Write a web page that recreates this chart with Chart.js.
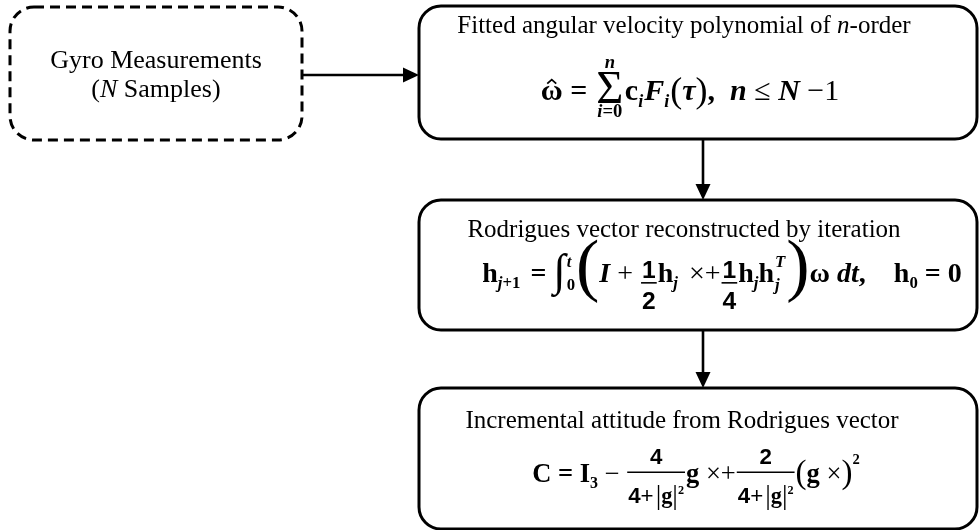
<!DOCTYPE html>
<html><head><meta charset="utf-8">
<script src="https://cdn.jsdelivr.net/npm/chart.js@4/dist/chart.umd.min.js"></script>
<style>html,body{margin:0;padding:0;background:#fff}#wrap{width:979px;height:530px}</style>
</head><body><div id="wrap"><canvas id="c"></canvas></div>
<script>
// ---- content ----
const nodeTitles = [
  ['Gyro Measurements', '(*N* Samples)'],
  ['Fitted angular velocity polynomial of *n*-order'],
  ['Rodrigues vector reconstructed by iteration'],
  ['Incremental attitude from Rodrigues vector']
];
const edges = [[0, 1], [1, 2], [2, 3]];
const edgeDirections = ['right', 'down', 'down'];

// formula token helpers
const T = (s, o) => Object.assign({ s: s }, o || {});
const B = { b: true }, BI = { b: true, i: true };
const SUB = (s, o) => T(s, Object.assign({ sc: 0.6, dy: 0.22, b: true }, o || {}));
const SUP = (s, o) => T(s, Object.assign({ sc: 0.6, dy: -0.42, b: true }, o || {}));
const FRAC = (num, den, o) => Object.assign({ frac: true, num: num, den: den }, o || {});

const formula1 = [
  T('ω', { b: true, hat: true }), T(' = ', B),
  { op: true, s: 'Σ', sc: 1.55, dy: 0.1, up: [T('n', BI)], lo: [T('i', BI), T('=0', B)], upY: 1.08, loY: 0.58 },
  T('c', B), SUB('i', { i: true, gap: 1 }), T('F', BI), SUB('i', { i: true, gap: 1 }),
  T('(', { sc: 1.2, dy: 0.05 }), T('τ', BI), T(')', { sc: 1.2, dy: 0.05 }),
  T(',  ', B), T('n', BI), T(' ≤ '), T('N', BI), T(' −1')
];
const den3 = [T('4', { b: true, sans: true }), T('+', { sans: true, gap: 2 }), T('|', { sc: 1.25, dy: 0.03 }), T('g', B), T('|', { sc: 1.25, dy: 0.03 }), SUP('2', { sc: 0.55 })];
const formula2 = [
  T('h', B), SUB('j', { i: true }), SUB('+1', { gap: 3 }), T(' = ', B),
  T('∫', { sc: 1.6, dy: 0.1 }), { stack: true, up: [T('t', BI)], lo: [T('0', B)] },
  T('(', { sc: 2.5, dy: 0.22 }), T('I', BI), T(' + '),
  FRAC([T('1', { b: true, sans: true })], [T('2', { b: true, sans: true })], { sc: 0.88, bar: 0.03, ng: 0.18, dg: 0.94 }),
  T('h', B), SUB('j', { i: true, gap: 4 }), T(' ×+'),
  FRAC([T('1', { b: true, sans: true })], [T('4', { b: true, sans: true })], { sc: 0.88, bar: 0.03, ng: 0.18, dg: 0.94 }),
  T('h', B), SUB('j', { i: true }), T('h', B), { stack: true, up: [T('T', BI)], lo: [T('j', BI)] },
  T(')', { sc: 2.5, dy: 0.22 }), T('ω', B), T(' d', BI), T('t', BI), T(',    ', B),
  T('h', B), SUB('0'), T(' = 0', B)
];
const formula3 = [
  T('C', B), T(' = ', B), T('I', B), SUB('3'), T(' − '),
  FRAC([T('4', { b: true, sans: true })], den3, { sc: 0.84, bar: -0.37, ng: 0.3, dg: 1.18 }),
  T('g', B), T(' ×+'),
  FRAC([T('2', { b: true, sans: true })], den3, { sc: 0.84, bar: -0.37, ng: 0.3, dg: 1.18 }),
  T('(', { sc: 1.25, dy: 0.04 }), T('g', B), T(' ×'), T(')', { sc: 1.25, dy: 0.04 }), SUP('2', { sc: 0.55, dy: -0.68 })
];
const nodeFormulas = [null, formula1, formula2, formula3];

// ---- layout (chart units) ----
const boxLayout = [
  { x0: 10, y0: 7, x1: 302, y1: 140, r: 24, dash: true },
  { x0: 419, y0: 6, x1: 977, y1: 139, r: 22 },
  { x0: 419, y0: 200, x1: 977, y1: 330, r: 22 },
  { x0: 419, y0: 388, x1: 977, y1: 529, r: 22 }
];
const titleLayout = [[[156, 68], [156, 97]], [[684, 33]], [[684, 237]], [[682, 428]]];
const titleSizes = [26, 25, 25, 25];
const formulaLayout = [null, [690, 100], [722, 282], [696, 482]];
const formulaSizes = [0, 30, 28, 26.5];
const edgeLayout = [
  [[302, 75], [419, 75]],
  [[703, 139], [703, 200]],
  [[703, 330], [703, 388]]
];
const SERIF = '"Liberation Serif","Times New Roman",serif';
const SANS = '"Liberation Sans",Arial,sans-serif';

function parseRich(str) {
  const parts = str.split('*');
  return parts.map((p, k) => T(p, { i: k % 2 === 1 })).filter(t => t.s.length);
}
function fontOf(tk, size) {
  return (tk.i ? 'italic ' : '') + (tk.b ? 'bold ' : '') + (size * (tk.sc || 1)).toFixed(1) + 'px ' + (tk.sans ? SANS : SERIF);
}
function wList(ctx, list, size) { let w = 0; for (const tk of list) w += wTok(ctx, tk, size); return w; }
function wTok(ctx, tk, size) {
  if (tk.frac) { const fs = size * tk.sc; return Math.max(wList(ctx, tk.num, fs), wList(ctx, tk.den, fs)) + 4; }
  if (tk.op) { ctx.font = fontOf(tk, size); const ls = size * 0.62; return Math.max(ctx.measureText(tk.s).width, wList(ctx, tk.up, ls), wList(ctx, tk.lo, ls)) + 3; }
  if (tk.stack) { const ls = size * 0.6; return Math.max(wList(ctx, tk.up, ls), wList(ctx, tk.lo, ls)) + 2; }
  ctx.font = fontOf(tk, size); return ctx.measureText(tk.s).width + (tk.gap || 0);
}
function drawList(ctx, list, x, y, size) {
  for (const tk of list) { const w = wTok(ctx, tk, size); drawTok(ctx, tk, x, y, size, w); x += w; }
}
function drawTok(ctx, tk, x, y, size, w) {
  if (tk.frac) {
    const fs = size * tk.sc, by = y + size * tk.bar;
    ctx.lineWidth = 1.6; ctx.beginPath(); ctx.moveTo(x + 1, by); ctx.lineTo(x + w - 1, by); ctx.stroke();
    const nw = wList(ctx, tk.num, fs), dw = wList(ctx, tk.den, fs);
    drawList(ctx, tk.num, x + (w - nw) / 2, by - size * tk.ng, fs);
    drawList(ctx, tk.den, x + (w - dw) / 2, by + size * tk.dg, fs);
    return;
  }
  if (tk.op) {
    ctx.font = fontOf(tk, size); const ow = ctx.measureText(tk.s).width;
    ctx.fillText(tk.s, x + (w - ow) / 2, y + size * (tk.dy || 0));
    const ls = size * 0.62;
    drawList(ctx, tk.up, x + (w - wList(ctx, tk.up, ls)) / 2, y - size * tk.upY, ls);
    drawList(ctx, tk.lo, x + (w - wList(ctx, tk.lo, ls)) / 2, y + size * tk.loY, ls);
    return;
  }
  if (tk.stack) {
    const ls = size * 0.6;
    drawList(ctx, tk.up, x + 1, y - size * 0.55, ls);
    drawList(ctx, tk.lo, x + 1, y + size * 0.27, ls);
    return;
  }
  ctx.font = fontOf(tk, size);
  const yy = y + size * (tk.dy || 0);
  ctx.fillText(tk.s, x, yy);
  if (tk.hat) {
    const cx = x + (w - (tk.gap || 0)) / 2, top = yy - size * 0.68;
    ctx.lineWidth = 1.8; ctx.beginPath();
    ctx.moveTo(cx - 4.5, top + 4); ctx.lineTo(cx, top); ctx.lineTo(cx + 4.5, top + 4); ctx.stroke();
  }
}

const flowPlugin = {
  id: 'flow',
  afterDraw(chart) {
    const ctx = chart.ctx, sx = chart.scales.x, sy = chart.scales.y;
    const px = v => sx.getPixelForValue(v), py = v => sy.getPixelForValue(v);
    ctx.save();
    ctx.fillStyle = '#000'; ctx.strokeStyle = '#000'; ctx.textBaseline = 'alphabetic';
    boxLayout.forEach(b => {
      ctx.lineWidth = 3;
      ctx.setLineDash(b.dash ? [10, 6] : []);
      ctx.beginPath();
      ctx.roundRect(px(b.x0), py(b.y0), px(b.x1) - px(b.x0), py(b.y1) - py(b.y0), b.r);
      ctx.stroke();
    });
    ctx.setLineDash([]);
    edges.forEach((e, k) => {
      const [[ax, ay], [bx, by]] = edgeLayout[k];
      const x0 = px(ax), y0 = py(ay), x1 = px(bx), y1 = py(by);
      const dir = edgeDirections[k], L = 16, H = 7.5;
      ctx.lineWidth = 2.6;
      ctx.beginPath();
      if (dir === 'right') { ctx.moveTo(x0, y0); ctx.lineTo(x1 - L, y1); }
      else { ctx.moveTo(x0, y0); ctx.lineTo(x1, y1 - L); }
      ctx.stroke();
      ctx.beginPath();
      if (dir === 'right') { ctx.moveTo(x1, y1); ctx.lineTo(x1 - L, y1 - H); ctx.lineTo(x1 - L, y1 + H); }
      else { ctx.moveTo(x1, y1); ctx.lineTo(x1 - H, y1 - L); ctx.lineTo(x1 + H, y1 - L); }
      ctx.closePath(); ctx.fill();
    });
    nodeTitles.forEach((lines, n) => {
      lines.forEach((line, j) => {
        const toks = parseRich(line);
        const [cx, by] = titleLayout[n][j];
        const w = wList(ctx, toks, titleSizes[n]);
        drawList(ctx, toks, px(cx) - w / 2, py(by), titleSizes[n]);
      });
    });
    nodeFormulas.forEach((f, n) => {
      if (!f) return;
      const [cx, by] = formulaLayout[n];
      const w = wList(ctx, f, formulaSizes[n]);
      drawList(ctx, f, px(cx) - w / 2, py(by), formulaSizes[n]);
    });
    ctx.restore();
  }
};

new Chart(document.getElementById('c'), {
  type: 'scatter',
  data: { datasets: [{ data: [], pointRadius: 0 }] },
  options: {
    responsive: true, maintainAspectRatio: false, animation: false,
    layout: { padding: 0 },
    plugins: { legend: { display: false }, tooltip: { enabled: false } },
    scales: {
      x: { type: 'linear', min: 0, max: 979, display: false },
      y: { type: 'linear', min: 0, max: 530, reverse: true, display: false }
    }
  },
  plugins: [flowPlugin]
});
</script></body></html>
